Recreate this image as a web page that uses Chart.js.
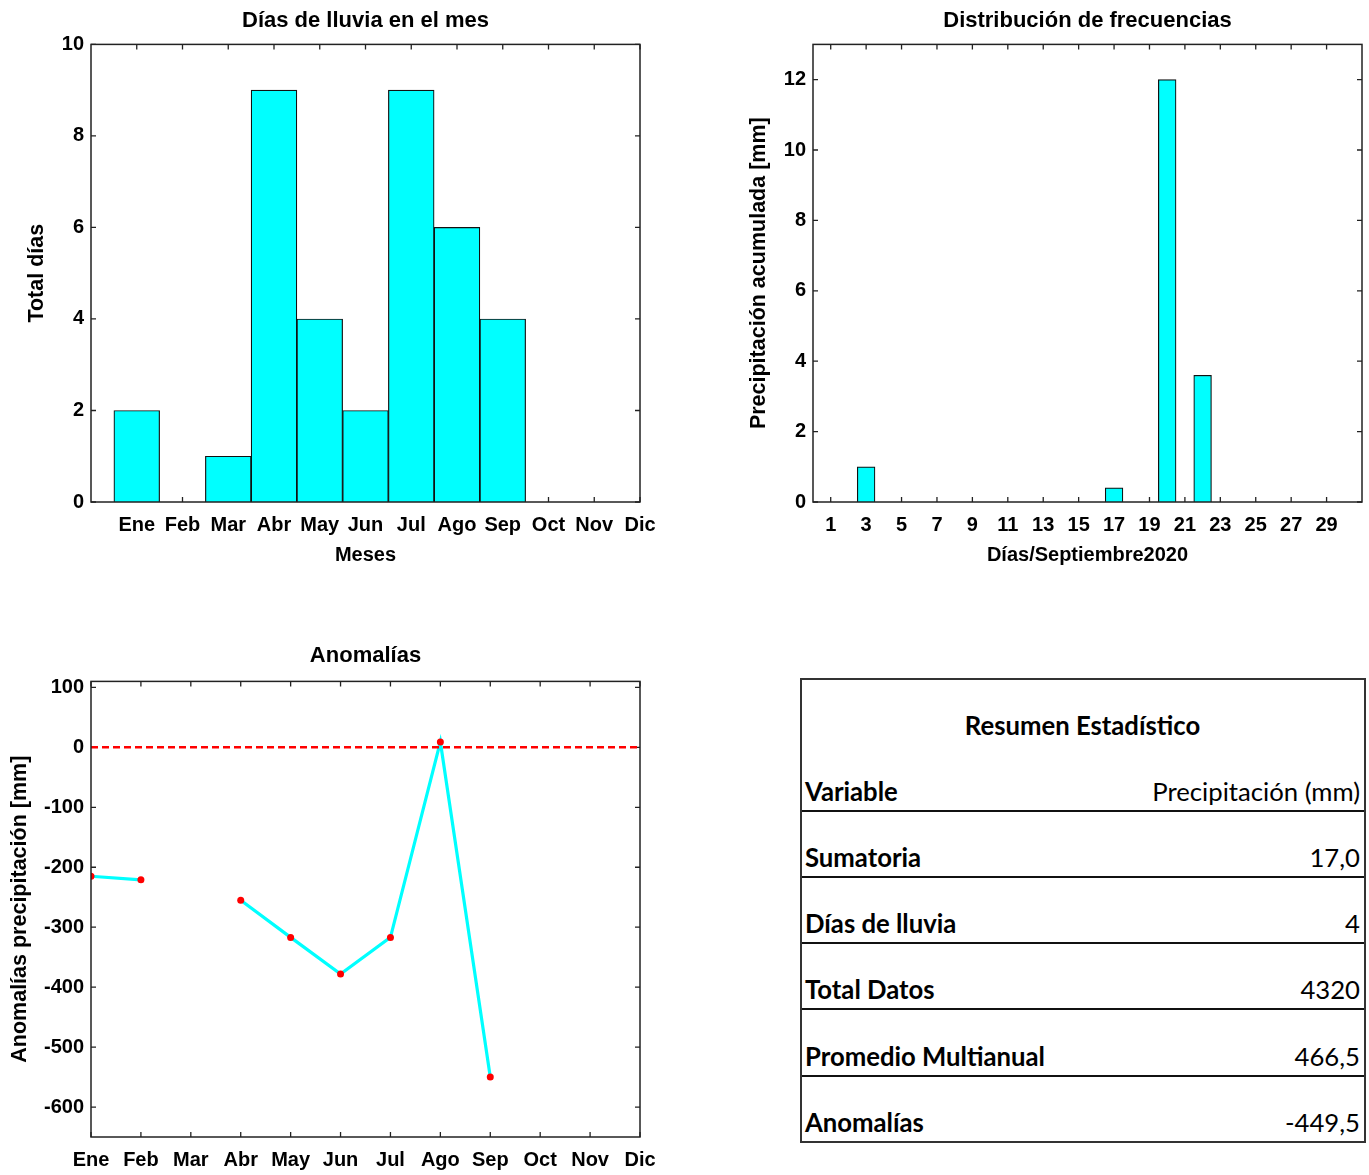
<!DOCTYPE html>
<html>
<head>
<meta charset="utf-8">
<script src="https://cdn.jsdelivr.net/npm/chart.js@4.4.0/dist/chart.umd.min.js"></script>
<style>
    body { margin: 0; background: #fff; width: 1369px; height: 1175px; position: relative; overflow: hidden; }
    canvas { position: absolute; }
    #grafLluvia { left: 0; top: 0; }
    #grafFrecuencia { left: 740px; top: 0; }
    #grafAnomalia { left: 0; top: 630px; }
    #resumen {
        position: absolute; left: 800px; top: 678px; width: 566px; height: 465px;
        border: 2px solid #333; box-sizing: border-box;
        display: flex; flex-direction: column;
        font-family: Lato, 'Open Sans', sans-serif; font-size: 25.7px; color: #000;
    }
    #resumen .fila {
        flex: 1; display: flex; justify-content: space-between; align-items: flex-end;
        padding: 0 4px 4px 3px; border-bottom: 2px solid #111;
    }
    #resumen .fila:last-child { border-bottom: none; }
    #resumen .titulo { justify-content: center; border-bottom: none; font-weight: bold; padding-bottom: 5px; }
    #resumen .etq { font-weight: bold; }
</style>
</head>
<body>
<canvas id="grafLluvia" width="680" height="580"></canvas>
<canvas id="grafFrecuencia" width="629" height="580"></canvas>
<canvas id="grafAnomalia" width="680" height="545"></canvas>
<div id="resumen"></div>
<script>
// datos
const meses = ['Ene', 'Feb', 'Mar', 'Abr', 'May', 'Jun', 'Jul', 'Ago', 'Sep', 'Oct', 'Nov', 'Dic'];
const diasLluvia = [2, 0, 1, 9, 4, 2, 9, 6, 4, 0, 0, 0];
const ticksDiasLluvia = [0, 2, 4, 6, 8, 10];

const diasSep = [1, 2, 3, 4, 5, 6, 7, 8, 9, 10, 11, 12, 13, 14, 15, 16, 17, 18, 19, 20, 21, 22, 23, 24, 25, 26, 27, 28, 29, 30];
const precipSep = [0, 0, 1, 0, 0, 0, 0, 0, 0, 0, 0, 0, 0, 0, 0, 0, 0.4, 0, 0, 12, 0, 3.6, 0, 0, 0, 0, 0, 0, 0, 0];
const ticksDias = [1, 3, 5, 7, 9, 11, 13, 15, 17, 19, 21, 23, 25, 27, 29];
const ticksPrecip = [0, 2, 4, 6, 8, 10, 12];

const anomalias = [-215, -221, null, -255, -317, -378, -317, 9, -550, null, null, null];
const lineaCero = [0, 0, 0, 0, 0, 0, 0, 0, 0, 0, 0, 0];
const ticksAnomalias = [100, 0, -100, -200, -300, -400, -500, -600];

const resumenEtiquetas = ['Variable', 'Sumatoria', 'Días de lluvia', 'Total Datos', 'Promedio Multianual', 'Anomalías'];
const resumenValores = ['Precipitación (mm)', '17,0', '4', '4320', '466,5', '-449,5'];

Chart.defaults.font.family = "'Liberation Sans', Arial, sans-serif";
Chart.defaults.font.weight = 'bold';
Chart.defaults.color = '#000';
Chart.defaults.animation = false;

// marco con ticks hacia dentro, estilo matlab
const marco = {
    id: 'marco',
    beforeDatasetsDraw(chart) {
        const {ctx, chartArea: a, scales: {x, y}} = chart;
        const L = 5;
        ctx.save();
        ctx.strokeStyle = '#222';
        ctx.lineWidth = 1.3;
        ctx.beginPath();
        x.ticks.forEach(t => {
            const px = x.getPixelForValue(t.value);
            ctx.moveTo(px, a.top); ctx.lineTo(px, a.top + L);
            ctx.moveTo(px, a.bottom); ctx.lineTo(px, a.bottom - L);
        });
        y.ticks.forEach(t => {
            const py = y.getPixelForValue(t.value);
            ctx.moveTo(a.left, py); ctx.lineTo(a.left + L, py);
            ctx.moveTo(a.right, py); ctx.lineTo(a.right - L, py);
        });
        ctx.stroke();
        ctx.restore();
    },
    afterDatasetsDraw(chart) {
        const {ctx, chartArea: a} = chart;
        ctx.save();
        ctx.strokeStyle = '#222';
        ctx.lineWidth = 1.5;
        ctx.strokeRect(a.left, a.top, a.right - a.left, a.bottom - a.top);
        ctx.restore();
    }
};

function tituloGraf(texto, pt, pb) {
    return { display: true, text: texto, fullSize: false, font: {size: 22, weight: 'bold'}, color: '#000', padding: {top: pt, bottom: pb} };
}

function ejeY(titulo, ticks, min, max, ancho, padTitulo) {
    return {
        type: 'linear', min: min, max: max,
        grid: {display: false, drawTicks: false},
        border: {display: false},
        afterBuildTicks: s => { s.ticks = ticks.map(v => ({value: v})); },
        afterFit: s => { s.width = ancho; },
        ticks: {font: {size: 20, weight: 'bold'}, padding: 7},
        title: {display: true, text: titulo, font: {size: 21.5, weight: 'bold'}, padding: {top: padTitulo, bottom: 0}}
    };
}

function ejeX(titulo, ticks, etiquetas, min, max, alto, padTicks) {
    const eje = {
        type: 'linear', min: min, max: max, offset: false,
        grid: {display: false, drawTicks: false, offset: false},
        border: {display: false},
        afterBuildTicks: s => { s.ticks = ticks.map(v => ({value: v})); },
        afterFit: s => { s.height = alto; },
        ticks: {
            font: {size: 20, weight: 'bold'}, padding: padTicks, maxRotation: 0, autoSkip: false,
            callback: (v, i) => etiquetas[i]
        }
    };
    if (titulo) {
        eje.title = {display: true, text: titulo, font: {size: 20, weight: 'bold'}, padding: {top: 0, bottom: 13}};
    }
    return eje;
}

const opcionesBase = {
    responsive: false,
    plugins: {legend: {display: false}, tooltip: {enabled: false}}
};

// Días de lluvia en el mes
new Chart(document.getElementById('grafLluvia'), {
    type: 'bar',
    data: {
        datasets: [{
            data: meses.map((m, i) => ({x: i + 1, y: diasLluvia[i]})),
            backgroundColor: '#00FFFF',
            borderColor: '#111',
            borderWidth: 1.2,
            barPercentage: 1,
            categoryPercentage: 1
        }]
    },
    options: {
        ...opcionesBase,
        layout: {padding: {left: 0, right: 40, top: 0, bottom: 0}},
        plugins: {...opcionesBase.plugins, title: tituloGraf('Días de lluvia en el mes', 8, 10)},
        scales: {
            x: ejeX('Meses', meses.map((m, i) => i + 1), meses, 0, 12, 78, 11),
            y: ejeY('Total días', ticksDiasLluvia, 0, 10, 91, 24)
        }
    },
    plugins: [marco]
});

// Distribución de frecuencias
new Chart(document.getElementById('grafFrecuencia'), {
    type: 'bar',
    data: {
        datasets: [{
            data: diasSep.map((d, i) => ({x: d, y: precipSep[i]})),
            backgroundColor: '#00FFFF',
            borderColor: '#111',
            borderWidth: 1.2,
            barPercentage: 1,
            categoryPercentage: 1
        }]
    },
    options: {
        ...opcionesBase,
        layout: {padding: {left: 0, right: 7, top: 0, bottom: 0}},
        plugins: {...opcionesBase.plugins, title: tituloGraf('Distribución de frecuencias', 8, 10)},
        scales: {
            x: ejeX('Días/Septiembre2020', ticksDias, ticksDias.map(String), 0, 31, 78, 11),
            y: ejeY('Precipitación acumulada [mm]', ticksPrecip, 0, 13, 73, 6)
        }
    },
    plugins: [marco]
});

// Anomalías
new Chart(document.getElementById('grafAnomalia'), {
    type: 'line',
    data: {
        datasets: [{
            data: meses.map((m, i) => ({x: i + 1, y: lineaCero[i]})),
            borderColor: '#FF0000',
            borderWidth: 2.5,
            borderDash: [7, 4],
            pointRadius: 0
        }, {
            data: meses.map((m, i) => ({x: i + 1, y: anomalias[i]})),
            borderColor: '#00FFFF',
            borderWidth: 3.2,
            pointRadius: 3.5,
            pointBorderWidth: 0,
            pointBackgroundColor: '#FF0000',
            spanGaps: false
        }]
    },
    options: {
        ...opcionesBase,
        layout: {padding: {left: 0, right: 40, top: 0, bottom: 0}},
        plugins: {...opcionesBase.plugins, title: tituloGraf('Anomalías', 13, 12)},
        scales: {
            x: ejeX(null, meses.map((m, i) => i + 1), meses, 1, 12, 38, 11),
            y: ejeY('Anomalías precipitación [mm]', ticksAnomalias, -650, 110, 91, 7)
        }
    },
    plugins: [marco]
});

// Resumen estadístico
const resumen = document.getElementById('resumen');
const filaTitulo = document.createElement('div');
filaTitulo.className = 'fila titulo';
filaTitulo.textContent = 'Resumen Estadístico';
resumen.appendChild(filaTitulo);
resumenEtiquetas.forEach((etq, i) => {
    const fila = document.createElement('div');
    fila.className = 'fila';
    const a = document.createElement('span');
    a.className = 'etq';
    a.textContent = etq;
    const b = document.createElement('span');
    b.textContent = resumenValores[i];
    fila.appendChild(a);
    fila.appendChild(b);
    resumen.appendChild(fila);
});
</script>
</body>
</html>
